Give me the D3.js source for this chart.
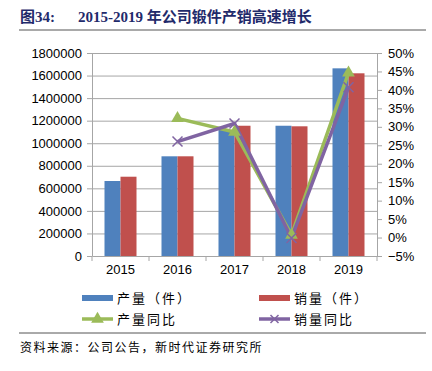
<!DOCTYPE html>
<html>
<head>
<meta charset="utf-8">
<script src="https://cdn.jsdelivr.net/npm/d3@7"></script>
<style>
  body { margin: 0; background: #fff; }
  text { font-family: "Liberation Sans", Arial, sans-serif; }
</style>
</head>
<body>
<div id="chart"></div>
<script>
var years = ["2015", "2016", "2017", "2018", "2019"];
var output = [665000, 884000, 1117000, 1155000, 1664000];
var sales = [703000, 884000, 1155000, 1150000, 1620000];
var outputYoy = [null, 32.3, 28.6, 0.7, 44.6];
var salesYoy = [null, 26.0, 30.9, -0.1, 40.7];
var leftTicks = [0, 200000, 400000, 600000, 800000, 1000000, 1200000, 1400000, 1600000, 1800000];
var rightTicks = [-5, 0, 5, 10, 15, 20, 25, 30, 35, 40, 45, 50];

var width = 432, height = 371;
var x0 = 92, x1 = 377, yTop = 53, yBot = 256;

var svg = d3.select("#chart").append("svg")
    .attr("width", width)
    .attr("height", height);

// title
var title = svg.append("text")
    .attr("x", 20).attr("y", 22)
    .style("font-family", "'Liberation Serif', 'Noto Sans CJK SC', serif")
    .style("font-weight", "bold")
    .style("font-size", "15px")
    .attr("fill", "#1f2a6b");
title.append("tspan").text("图34:");
title.append("tspan").attr("x", 78).text("2015-2019 年公司锻件产销高速增长");

svg.append("line").attr("x1", 19).attr("x2", 426).attr("y1", 30).attr("y2", 30)
    .attr("stroke", "#555").attr("stroke-width", 1);

var x = d3.scaleBand().domain(years).range([x0, x1]);
var y = d3.scaleLinear().domain([0, 1800000]).range([yBot, yTop]);
var y2 = d3.scaleLinear().domain([-5, 50]).range([yBot, yTop]);

// gridlines
svg.append("g").selectAll("line")
    .data(leftTicks.slice(1))
    .enter().append("line")
      .attr("x1", x0).attr("x2", x1)
      .attr("y1", function(d) { return y(d) + 0.5; })
      .attr("y2", function(d) { return y(d) + 0.5; })
      .attr("stroke", "#a6a6a6").attr("stroke-width", 1);

// bars
var bw = 16;
var grp = svg.append("g").selectAll("g")
    .data(years)
    .enter().append("g")
      .attr("transform", function(d) { return "translate(" + (x(d) + x.bandwidth() / 2) + ",0)"; });

grp.append("rect")
    .attr("x", -bw)
    .attr("y", function(d, i) { return y(output[i]); })
    .attr("width", bw)
    .attr("height", function(d, i) { return yBot - y(output[i]); })
    .attr("fill", "#4f81bd");

grp.append("rect")
    .attr("x", 0)
    .attr("y", function(d, i) { return y(sales[i]); })
    .attr("width", bw)
    .attr("height", function(d, i) { return yBot - y(sales[i]); })
    .attr("fill", "#c0504d");

// axes
var leftAxis = svg.append("g")
    .attr("transform", "translate(" + x0 + ",0)")
    .call(d3.axisLeft(y).tickValues(leftTicks).tickSize(5).tickSizeOuter(0).tickPadding(5)
      .tickFormat(d3.format("d")));

var rightAxis = svg.append("g")
    .attr("transform", "translate(" + x1 + ",0)")
    .call(d3.axisRight(y2).tickValues(rightTicks).tickSize(5).tickSizeOuter(0).tickPadding(6)
      .tickFormat(function(d) { return (d < 0 ? "\u2212" + (-d) : d) + "%"; }));

var bottomAxis = svg.append("g")
    .attr("transform", "translate(0," + yBot + ")")
    .call(d3.axisBottom(x).tickSize(0).tickPadding(9));

svg.append("g").selectAll("line")
    .data(d3.range(years.length + 1))
    .enter().append("line")
      .attr("x1", function(i) { return x0 + i * x.step(); })
      .attr("x2", function(i) { return x0 + i * x.step(); })
      .attr("y1", yBot).attr("y2", yBot + 5)
      .attr("stroke", "#a6a6a6");

[leftAxis, rightAxis, bottomAxis].forEach(function(a) {
  a.selectAll("path, line").attr("stroke", "#a6a6a6");
  a.selectAll("text").style("font-size", "13px").attr("fill", "#000");
});

// lines
var line = d3.line()
    .defined(function(d) { return d != null; })
    .x(function(d, i) { return x(years[i]) + x.bandwidth() / 2; })
    .y(function(d) { return y2(d); });

svg.append("path")
    .datum(outputYoy)
    .attr("fill", "none")
    .attr("stroke", "#9bbb59")
    .attr("stroke-width", 3.5)
    .attr("stroke-linejoin", "round")
    .attr("d", line);

svg.append("path")
    .datum(salesYoy)
    .attr("fill", "none")
    .attr("stroke", "#8064a2")
    .attr("stroke-width", 3.5)
    .attr("stroke-linejoin", "round")
    .attr("d", line);

var tri = d3.symbol().type(d3.symbolTriangle).size(70);
function cross(s) {
  return "M" + (-s) + "," + (-s) + "L" + s + "," + s + "M" + (-s) + "," + s + "L" + s + "," + (-s);
}

svg.append("g").selectAll("path")
    .data(outputYoy.map(function(v, i) { return {v: v, i: i}; }).filter(function(d) { return d.v != null; }))
    .enter().append("path")
      .attr("transform", function(d) { return "translate(" + (x(years[d.i]) + x.bandwidth() / 2) + "," + y2(d.v) + ")"; })
      .attr("d", tri)
      .attr("fill", "#9bbb59");

svg.append("g").selectAll("path")
    .data(salesYoy.map(function(v, i) { return {v: v, i: i}; }).filter(function(d) { return d.v != null; }))
    .enter().append("path")
      .attr("transform", function(d) { return "translate(" + (x(years[d.i]) + x.bandwidth() / 2) + "," + y2(d.v) + ")"; })
      .attr("d", cross(5))
      .attr("stroke", "#8064a2")
      .attr("stroke-width", 1.5)
      .attr("fill", "none");

// legend
var cjk = "'Noto Sans CJK SC', sans-serif";
var legend = [
  {label: "产量（件）", x: 82, y: 298, type: "rect", color: "#4f81bd"},
  {label: "销量（件）", x: 259, y: 298, type: "rect", color: "#c0504d"},
  {label: "产量同比", x: 82, y: 319, type: "tri", color: "#9bbb59"},
  {label: "销量同比", x: 259, y: 319, type: "cross", color: "#8064a2"}
];

var lg = svg.append("g").selectAll("g")
    .data(legend)
    .enter().append("g")
      .attr("transform", function(d) { return "translate(" + d.x + "," + d.y + ")"; });

lg.each(function(d) {
  var g = d3.select(this);
  if (d.type == "rect") {
    g.append("rect").attr("x", 0).attr("y", -3).attr("width", 31).attr("height", 6).attr("fill", d.color);
  } else {
    g.append("line").attr("x1", 0).attr("x2", 31).attr("y1", 0).attr("y2", 0)
      .attr("stroke", d.color).attr("stroke-width", 3.5);
    if (d.type == "tri") {
      g.append("path").attr("transform", "translate(15.5,0)").attr("d", tri).attr("fill", d.color);
    } else {
      g.append("path").attr("transform", "translate(15.5,0)").attr("d", cross(4))
        .attr("stroke", d.color).attr("stroke-width", 1.5);
    }
  }
  g.append("text")
    .attr("x", 35).attr("y", 0).attr("dy", "0.35em")
    .style("font-family", cjk)
    .style("font-size", "13px")
    .style("letter-spacing", "2px")
    .attr("fill", "#000")
    .text(d.label);
});

svg.append("line").attr("x1", 19).attr("x2", 426).attr("y1", 333).attr("y2", 333)
    .attr("stroke", "#555").attr("stroke-width", 1);

svg.append("text")
    .attr("x", 20).attr("y", 352)
    .style("font-family", cjk)
    .style("font-size", "12px")
    .style("letter-spacing", "1.5px")
    .attr("fill", "#000")
    .text("资料来源：公司公告，新时代证券研究所");
</script>
</body>
</html>
